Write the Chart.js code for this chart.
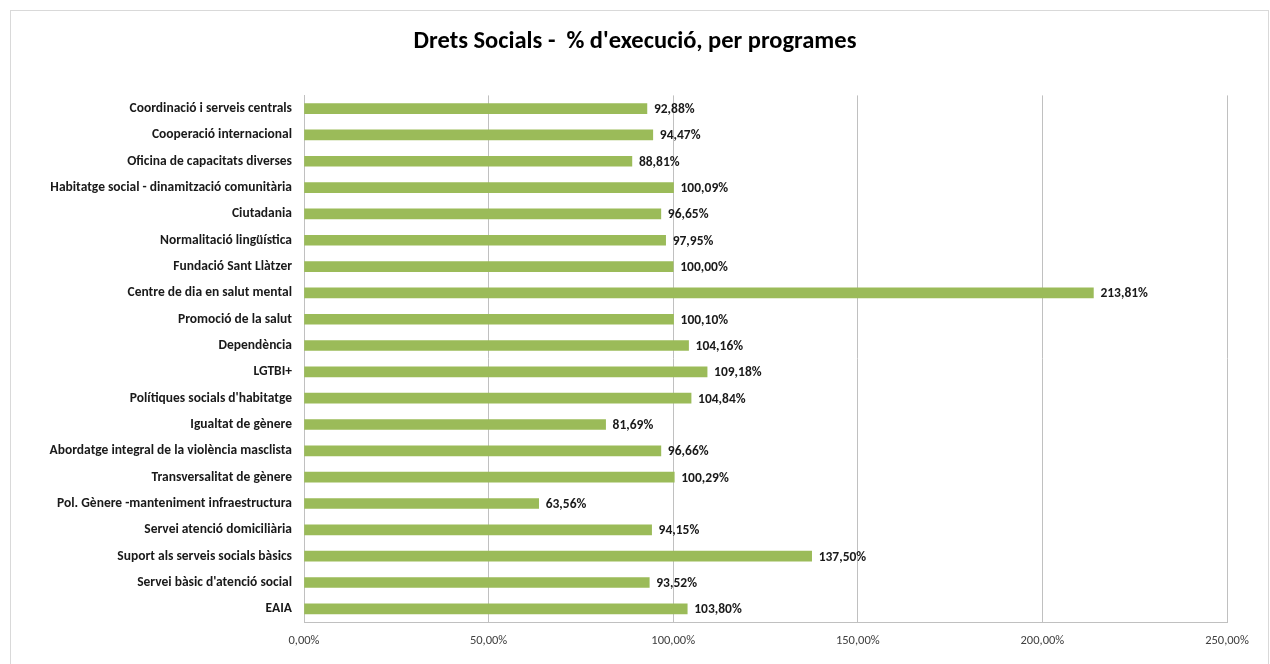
<!DOCTYPE html>
<html>
<head>
<meta charset="utf-8">
<script src="https://cdn.jsdelivr.net/npm/chart.js@4/dist/chart.umd.min.js"></script>
<style>
  html, body { margin: 0; padding: 0; background: #fff; }
  #frame { position: absolute; left: 10px; top: 10px; width: 1257px; height: 660px; border: 1px solid #d9d9d9; }
  #wrap { position: absolute; left: 0; top: 0; width: 1270px; height: 664px; }
</style>
</head>
<body>
<div id="frame"></div>
<div id="wrap"><canvas id="chart"></canvas></div>
<script>
const programes = [
  'Coordinació i serveis centrals',
  'Cooperació internacional',
  'Oficina de capacitats diverses',
  'Habitatge social - dinamització comunitària',
  'Ciutadania',
  'Normalitació lingüística',
  'Fundació Sant Llàtzer',
  'Centre de dia en salut mental',
  'Promoció de la salut',
  'Dependència',
  'LGTBI+',
  "Polítiques socials d'habitatge",
  'Igualtat de gènere',
  'Abordatge integral de la violència masclista',
  'Transversalitat de gènere',
  'Pol. Gènere -manteniment infraestructura',
  'Servei atenció domiciliària',
  'Suport als serveis socials bàsics',
  "Servei bàsic d'atenció social",
  'EAIA',
];
const execucio = [92.88, 94.47, 88.81, 100.09, 96.65, 97.95, 100.00, 213.81, 100.10, 104.16,
  109.18, 104.84, 81.69, 96.66, 100.29, 63.56, 94.15, 137.50, 93.52, 103.80];
const ticksX = [0, 50, 100, 150, 200, 250];

const FONT = "'Liberation Sans Narrow', Carlito, 'Open Sans', sans-serif";
const pct = (v) => `${v.toFixed(2).replace('.', ',')}%`;

// value labels at the end of each bar
const barLabels = {
  id: 'barLabels',
  afterDatasetsDraw(chart) {
    const { ctx } = chart;
    const meta = chart.getDatasetMeta(0);
    ctx.save();
    ctx.font = `bold 13.5px ${FONT}`;
    ctx.fillStyle = '#1a1a1a';
    ctx.textAlign = 'left';
    ctx.textBaseline = 'middle';
    meta.data.forEach((bar, i) => {
      ctx.fillText(pct(execucio[i]), bar.x + 7, bar.y + 1);
    });
    ctx.restore();
  },
};

// eslint-disable-next-line no-undef, no-unused-vars
const chart = new Chart(document.getElementById('chart'), {
  type: 'bar',
  data: {
    labels: programes,
    datasets: [{
      data: execucio,
      backgroundColor: '#9bbb59',
      barThickness: 10,
    }],
  },
  plugins: [barLabels],
  options: {
    indexAxis: 'y',
    responsive: true,
    maintainAspectRatio: false,
    animation: false,
    layout: { padding: { left: 43, right: 43, top: 0, bottom: 0 } },
    plugins: {
      legend: { display: false },
      tooltip: { enabled: false },
      title: {
        display: true,
        text: "Drets Socials -  % d'execució, per programes",
        color: '#000',
        font: { family: FONT, size: 24.5, weight: 'bold' },
        padding: { top: 27, bottom: 39 },
      },
    },
    scales: {
      x: {
        min: 0,
        max: 250,
        afterBuildTicks: (scale) => { scale.ticks = ticksX.map((v) => ({ value: v })); },
        afterFit: (scale) => { scale.height = 42; },
        grid: { color: '#c0c0c0', drawTicks: false },
        border: { color: '#c0c0c0' },
        ticks: {
          padding: 11,
          color: '#404040',
          font: { family: FONT, size: 12.5 },
          callback: (v) => pct(v),
        },
      },
      y: {
        afterFit: (scale) => { scale.width = 261; },
        grid: { display: false, drawTicks: false },
        border: { color: '#c0c0c0' },
        ticks: {
          padding: 12,
          color: '#1a1a1a',
          font: { family: FONT, size: 13.5, weight: 'bold' },
        },
      },
    },
  },
});
</script>
</body>
</html>
